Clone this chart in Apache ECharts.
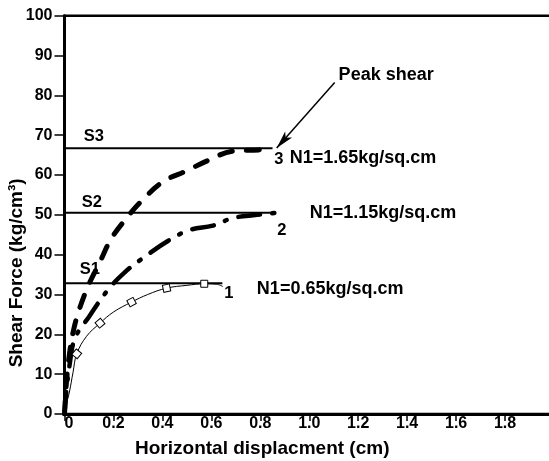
<!DOCTYPE html>
<html>
<head>
<meta charset="utf-8">
<script src="https://cdn.jsdelivr.net/npm/echarts@6/dist/echarts.min.js"></script>
<style>
html,body{margin:0;padding:0;background:#fff;}
#chart{width:549px;height:461px;}
</style>
</head>
<body>
<div id="chart"></div>
<script>
// ---- data ----
const xTickValues = [0, 0.2, 0.4, 0.6, 0.8, 1.0, 1.2, 1.4, 1.6, 1.8];
const yTickValues = [0, 10, 20, 30, 40, 50, 60, 70, 80, 90, 100];

// curve 1 (N1 = 0.65 kg/sq.cm), thin line with open markers
const curve1 = [[0,0],[0.01,3],[0.02,5.5],[0.035,10.5],[0.05,15.1],[0.09,19.5],[0.145,22.8],[0.2,25.6],[0.274,28.1],[0.34,30],[0.417,31.6],[0.5,32.3],[0.571,32.7],[0.62,32.6],[0.647,32]];
const curve1Markers = [[0.05,15.1],[0.145,22.8],[0.274,28.1],[0.417,31.6],[0.571,32.7]];
// curve 2 (N1 = 1.15 kg/sq.cm), dash-dot
const curve2 = [[0,0],[0.008,6],[0.02,12],[0.043,19],[0.101,24.5],[0.178,31.2],[0.245,35.5],[0.315,38.9],[0.424,43.5],[0.512,46.2],[0.606,47.3],[0.688,49.2],[0.786,50],[0.88,50.6]];
// curve 3 (N1 = 1.65 kg/sq.cm), dashed
const curve3 = [[0,0],[0.008,8],[0.02,15],[0.035,20.5],[0.057,25.6],[0.097,32.2],[0.145,38.2],[0.188,43.7],[0.251,49],[0.32,53.8],[0.402,58.3],[0.5,61.1],[0.588,63.7],[0.688,66],[0.794,66.3],[0.818,66.6]];

// peak shear levels S1, S2, S3 and where their lines end
const sNames = ['S1', 'S2', 'S3'];
const sLevels = [32.8, 50.5, 66.7];
const sEnds = [0.645, 0.845, 0.85];

// annotation texts
const curveNumbers = ['1', '2', '3'];
const normalStress = ['N1=0.65kg/sq.cm', 'N1=1.15kg/sq.cm', 'N1=1.65kg/sq.cm'];
const peakText = 'Peak shear';

// ---- placement of annotations (data coordinates) ----
const sLabelPos = [[0.104, 36.4], [0.112, 53], [0.12, 69.6]];
const curveNumberPos = [[0.671, 30.2], [0.888, 46.2], [0.876, 63.8]];
const normalStressPos = [[0.786, 31.4], [1.002, 50.5], [0.92, 64.3]];
const peakTextPos = [1.12, 85.2];
const arrowFrom = [1.104, 83.2];
const arrowTo = [0.867, 66.8];
const markerRotate = [50, 40, 28, 12, 0];

const FONT = 'Liberation Sans, Arial, Helvetica, sans-serif';
const lbl = (size) => ({ fontFamily: FONT, fontWeight: 'bold', fontSize: size, color: '#000', opacity: 1 });

const chart = echarts.init(document.getElementById('chart'), null, { renderer: 'canvas' });

const series = [];

// S reference lines
sLevels.forEach((lv, i) => {
  series.push({
    type: 'line', data: [[0, lv], [sEnds[i], lv]], symbol: 'none', silent: true,
    lineStyle: { color: '#000', width: 2 }, z: 3
  });
});

series.push({
  type: 'line', name: 'curve1', data: curve1, smooth: 0.4, symbol: 'none',
  lineStyle: { color: '#000', width: 1 }, z: 4
});
series.push({
  type: 'scatter', data: curve1Markers.map((p, i) => ({ value: p, symbolRotate: markerRotate[i] })),
  symbol: 'rect', symbolSize: 7,
  itemStyle: { color: '#fff', borderColor: '#000', borderWidth: 1, opacity: 1 }, z: 5
});
series.push({
  type: 'line', name: 'curve2', data: curve2, smooth: 0.4, symbol: 'none',
  lineStyle: { color: '#000', width: 4.5, type: [22, 12, 2, 12], cap: 'round' }, z: 4
});
series.push({
  type: 'line', name: 'curve3', data: curve3, smooth: 0.4, symbol: 'none',
  lineStyle: { color: '#000', width: 5, type: [13, 14], cap: 'round' }, z: 4,
  markLine: {
    silent: true, symbol: ['none', 'arrow'], symbolSize: [7, 18],
    lineStyle: { color: '#000', width: 1.5, type: 'solid' }, label: { show: false },
    data: [[{ coord: arrowFrom }, { coord: arrowTo }]]
  }
});

// annotations
const annCenter = [];
sNames.forEach((t, i) => annCenter.push({ value: sLabelPos[i], name: t }));
curveNumbers.forEach((t, i) => annCenter.push({ value: curveNumberPos[i], name: t }));
series.push({
  type: 'scatter', data: annCenter, symbolSize: 0, silent: true, z: 6,
  itemStyle: { opacity: 1 },
  label: { show: true, position: 'inside', formatter: p => p.name, ...lbl(16.5) }
});
const annLeft = normalStress.map((t, i) => ({ value: normalStressPos[i], name: t }));
annLeft.push({ value: peakTextPos, name: peakText });
series.push({
  type: 'scatter', data: annLeft, symbolSize: 0, silent: true, z: 6,
  itemStyle: { opacity: 1 },
  label: { show: true, position: 'right', distance: 0, formatter: p => p.name, ...lbl(18) }
});

chart.setOption({
  backgroundColor: '#fff',
  animation: false,
  grid: { left: 64.5, right: -5, top: 15.7, bottom: 47, containLabel: false, outerBoundsMode: 'none',
          show: true, borderColor: '#000', borderWidth: 2.5, backgroundColor: 'transparent' },
  xAxis: {
    type: 'value', min: 0, max: 2, interval: 0.2,
    name: 'Horizontal displacment (cm)', nameLocation: 'middle', nameGap: 25, nameMoveOverlap: false,
    nameTextStyle: { ...lbl(19), padding: [0, 94, 0, 0] },
    axisLine: { show: true, onZero: false, lineStyle: { color: '#000', width: 3 } },
    axisTick: { show: true, length: 7, lineStyle: { color: '#000', width: 1.5 } },
    axisLabel: {
      ...lbl(16), margin: 2, alignMinLabel: 'left',
      formatter: v => (xTickValues.some(t => Math.abs(t - v) < 1e-9) ? (v === 0 ? '0' : v.toFixed(1)) : '')
    },
    splitLine: { show: false }
  },
  yAxis: {
    type: 'value', min: 0, max: 100, interval: 10,
    name: 'Shear Force (kg/cm³)', nameLocation: 'middle', nameGap: 38, nameRotate: 90, nameMoveOverlap: false,
    nameTextStyle: { ...lbl(19), padding: [0, 116, 0, 0] },
    axisLine: { show: true, onZero: false, lineStyle: { color: '#000', width: 3 } },
    axisTick: { show: true, length: 10, lineStyle: { color: '#000', width: 1.5 } },
    axisLabel: { ...lbl(16), margin: 12, formatter: v => (yTickValues.includes(v) ? String(v) : '') },
    splitLine: { show: false }
  },
  series: series
});
</script>
</body>
</html>
